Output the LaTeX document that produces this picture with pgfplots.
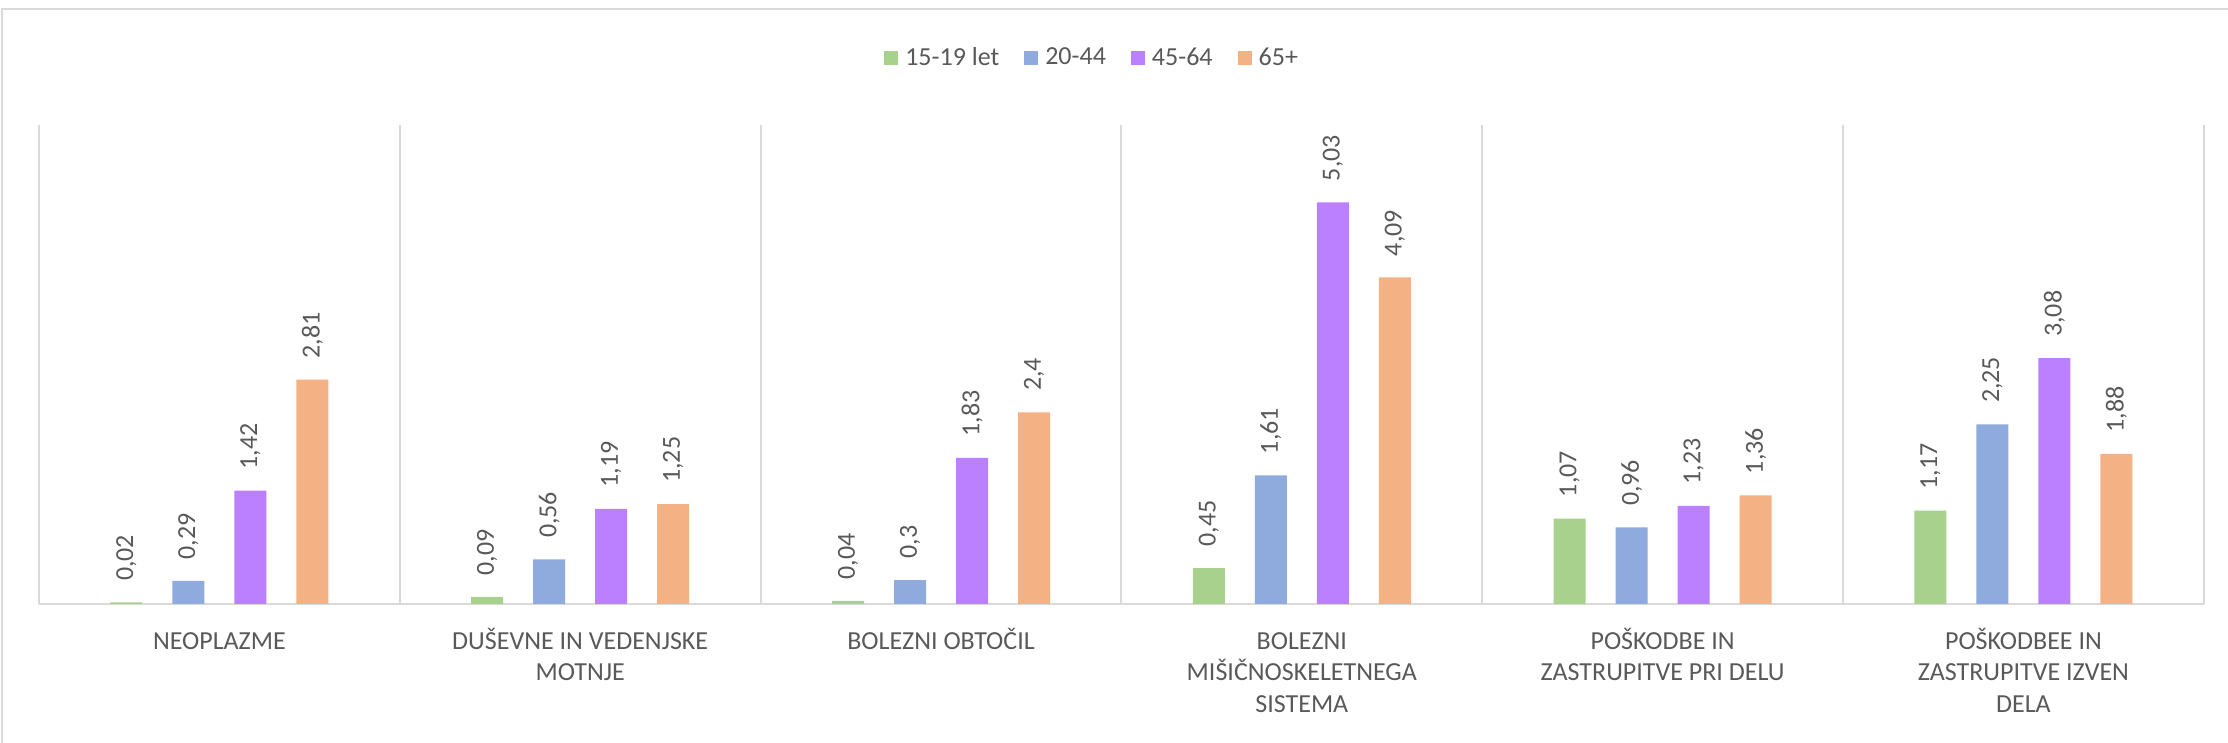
\documentclass[border=0pt]{standalone}
\usepackage{pgfplots}
\pgfplotsset{compat=1.18}
\usepackage{fontspec}
\setmainfont{Carlito}
\definecolor{cgreen}{HTML}{A9D18E}
\definecolor{cblue}{HTML}{8FAADC}
\definecolor{cpurple}{HTML}{BB80FF}
\definecolor{corange}{HTML}{F4B183}
\definecolor{gridgray}{HTML}{D9D9D9}
\definecolor{labelgray}{HTML}{595959}
\begin{document}
\begin{tikzpicture}
\path[use as bounding box] (0pt,0pt) rectangle (1114pt,371.5pt);
\draw[gridgray, line width=1.2pt] (1pt,-5pt) -- (1pt,367pt) -- (1120pt,367pt);
\begin{axis}[
  at={(19.5pt,69.5pt)}, anchor=south west,
  scale only axis, width=1082.5pt, height=239.5pt,
  xmin=-0.5, xmax=5.5, ymin=0, ymax=6,
  axis x line=bottom, axis y line=none,
  x axis line style={-, draw=gridgray, line width=1pt},
  xtick={0,...,5},
  xticklabels={\strut NEOPLAZME, {\strut DUŠEVNE IN VEDENJSKE\\MOTNJE}, \strut BOLEZNI OBTOČIL, {\strut BOLEZNI\\MIŠIČNOSKELETNEGA\\SISTEMA}, {\strut POŠKODBE IN\\ZASTRUPITVE PRI DELU}, {\strut POŠKODBEE IN\\ZASTRUPITVE IZVEN\\DELA}},
  major tick length=0pt, minor tick length=0pt,
  minor xtick={-0.5,0.5,...,5.5},
  xminorgrids=true,
  minor grid style={draw=gridgray, line width=1pt},
  ytick=\empty,
  xticklabel style={anchor=north, yshift=-11.5pt, align=center, inner sep=0pt, font=\fontsize{13}{15.75}\selectfont, text=labelgray},
  ybar=15pt, bar width=16pt,
  nodes near coords={\pgfmathprintnumber[fixed, precision=2, use comma, assume math mode=true]{\pgfplotspointmeta}},
  nodes near coords style={rotate=90, anchor=west, inner xsep=10.5pt, inner ysep=0pt, font=\fontsize{13}{15}\selectfont, text=labelgray},
  legend style={at={(0.486,1.140)}, anchor=center, draw=none, fill=none, legend columns=4,
    font=\fontsize{13}{15}\selectfont, text=labelgray,
    /tikz/every odd column/.append style={column sep=3.5pt},
    /tikz/every even column/.append style={column sep=12.5pt},
    nodes={inner sep=0pt}},
  legend image code/.code={\fill[#1, draw=none] (0pt,-3.5pt) rectangle (7pt,3.5pt);},
  clip=false,
]
\addplot[fill=cgreen, draw=none] coordinates {(0,0.02) (1,0.09) (2,0.04) (3,0.45) (4,1.07) (5,1.17)};
\addplot[fill=cblue, draw=none] coordinates {(0,0.29) (1,0.56) (2,0.3) (3,1.61) (4,0.96) (5,2.25)};
\addplot[fill=cpurple, draw=none] coordinates {(0,1.42) (1,1.19) (2,1.83) (3,5.03) (4,1.23) (5,3.08)};
\addplot[fill=corange, draw=none] coordinates {(0,2.81) (1,1.25) (2,2.4) (3,4.09) (4,1.36) (5,1.88)};
\legend{15-19 let, 20-44, 45-64, 65+}
\end{axis}
\end{tikzpicture}
\end{document}
